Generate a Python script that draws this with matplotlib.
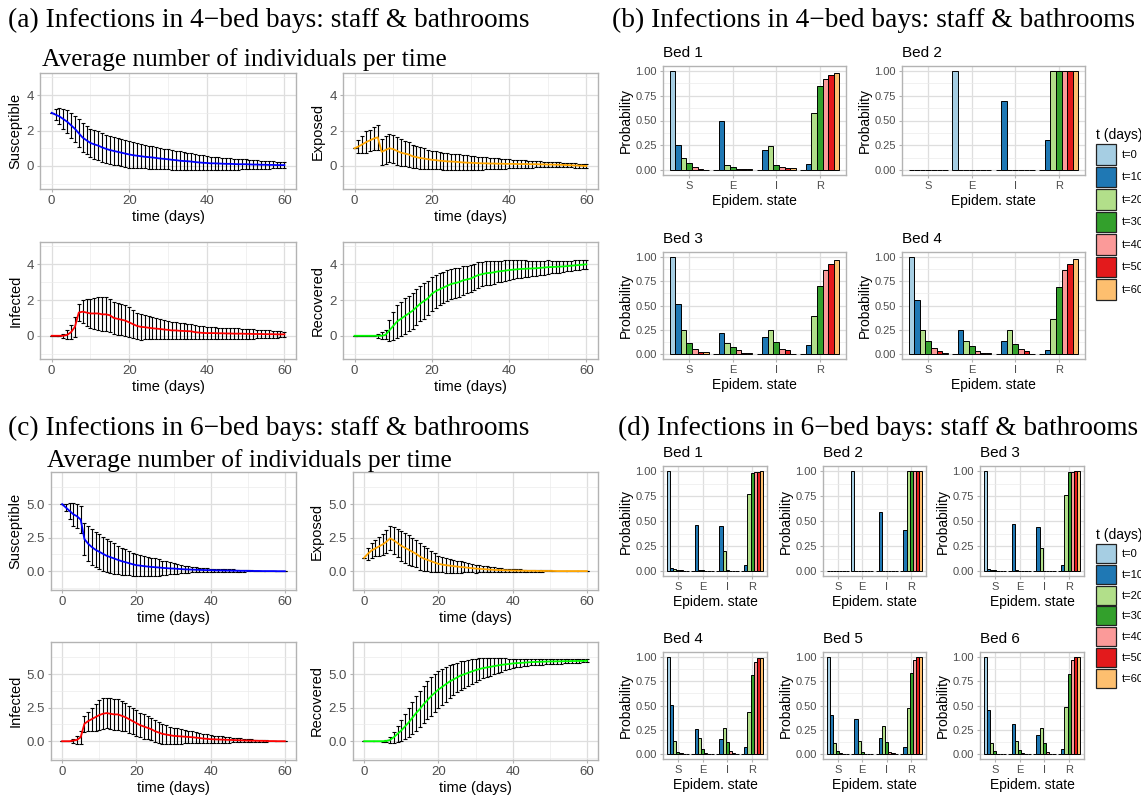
import numpy as np
import matplotlib.pyplot as plt
from matplotlib.patches import Patch

plt.rcParams['font.family'] = ['Liberation Sans', 'DejaVu Sans']

# ---- time series (mean and sd per day), 4-bed bays ----
days = np.arange(0, 61)

S4_mean = [3.00, 2.90, 2.80, 2.65, 2.50, 2.30, 2.10, 1.85, 1.60, 1.45,
           1.30, 1.22, 1.15, 1.05, 0.97, 0.90, 0.85, 0.80, 0.75, 0.70,
           0.65, 0.61, 0.58, 0.55, 0.52, 0.50, 0.48, 0.45, 0.42, 0.40,
           0.38, 0.35, 0.33, 0.30, 0.28, 0.27, 0.25, 0.22, 0.20, 0.18,
           0.17, 0.15, 0.15, 0.14, 0.13, 0.12, 0.12, 0.11, 0.10, 0.10,
           0.10, 0.09, 0.08, 0.08, 0.07, 0.07, 0.06, 0.06, 0.05, 0.05, 0.05]
S4_sd = [0.00, 0.30, 0.45, 0.55, 0.65, 0.70, 0.75, 0.80, 0.80, 0.80,
         0.80, 0.80, 0.80, 0.80, 0.80, 0.80, 0.78, 0.77, 0.76, 0.75,
         0.75, 0.72, 0.70, 0.68, 0.66, 0.65, 0.63, 0.62, 0.60, 0.58,
         0.57, 0.55, 0.53, 0.52, 0.50, 0.48, 0.47, 0.45, 0.43, 0.42,
         0.40, 0.38, 0.37, 0.35, 0.34, 0.33, 0.32, 0.31, 0.30, 0.29,
         0.28, 0.27, 0.25, 0.24, 0.23, 0.22, 0.21, 0.20, 0.19, 0.18, 0.17]
E4_mean = [1.00, 1.10, 1.22, 1.35, 1.45, 1.55, 1.62, 0.80, 0.90, 1.00,
           0.95, 0.85, 0.75, 0.70, 0.65, 0.55, 0.50, 0.45, 0.42, 0.38,
           0.35, 0.33, 0.30, 0.28, 0.26, 0.25, 0.24, 0.22, 0.20, 0.19,
           0.18, 0.17, 0.16, 0.15, 0.15, 0.14, 0.14, 0.13, 0.13, 0.12,
           0.12, 0.12, 0.11, 0.11, 0.11, 0.10, 0.10, 0.10, 0.09, 0.09,
           0.08, 0.08, 0.07, 0.07, 0.06, 0.05, 0.04, 0.03, 0.02, 0.01, 0.00]
E4_sd = [0.00, 0.35, 0.50, 0.60, 0.60, 0.65, 0.70, 0.75, 0.78, 0.80,
         0.80, 0.78, 0.75, 0.72, 0.68, 0.65, 0.62, 0.60, 0.57, 0.55,
         0.52, 0.50, 0.49, 0.48, 0.46, 0.45, 0.44, 0.43, 0.42, 0.41,
         0.40, 0.38, 0.37, 0.35, 0.34, 0.33, 0.31, 0.30, 0.28, 0.27,
         0.25, 0.24, 0.23, 0.22, 0.21, 0.20, 0.19, 0.18, 0.17, 0.16,
         0.15, 0.15, 0.14, 0.14, 0.13, 0.13, 0.12, 0.12, 0.11, 0.11, 0.10]
I4_mean = [0.00, 0.00, 0.00, 0.00, 0.05, 0.20, 0.50, 1.30, 1.35, 1.30,
           1.25, 1.25, 1.25, 1.20, 1.20, 1.15, 1.00, 0.95, 0.90, 0.85,
           0.75, 0.65, 0.55, 0.50, 0.48, 0.45, 0.42, 0.40, 0.38, 0.35,
           0.33, 0.30, 0.30, 0.28, 0.27, 0.26, 0.25, 0.20, 0.18, 0.16,
           0.15, 0.15, 0.15, 0.14, 0.14, 0.13, 0.13, 0.12, 0.12, 0.12,
           0.11, 0.11, 0.10, 0.10, 0.10, 0.09, 0.09, 0.09, 0.08, 0.08, 0.08]
I4_sd = [0.00, 0.00, 0.00, 0.10, 0.25, 0.40, 0.55, 0.50, 0.65, 0.75,
         0.80, 0.85, 0.90, 0.95, 0.95, 0.92, 0.90, 0.90, 0.88, 0.86,
         0.84, 0.80, 0.75, 0.72, 0.68, 0.65, 0.62, 0.58, 0.55, 0.52,
         0.50, 0.48, 0.46, 0.45, 0.44, 0.42, 0.41, 0.40, 0.38, 0.36,
         0.35, 0.34, 0.33, 0.32, 0.31, 0.30, 0.30, 0.29, 0.29, 0.28,
         0.28, 0.27, 0.26, 0.25, 0.24, 0.22, 0.21, 0.20, 0.18, 0.17, 0.15]
R4_mean = [0.00, 0.00, 0.00, 0.00, 0.00, 0.00, 0.00, 0.00, 0.05, 0.30,
           0.55, 0.80, 0.95, 1.10, 1.25, 1.40, 1.60, 1.80, 1.95, 2.10,
           2.35, 2.50, 2.60, 2.70, 2.80, 2.90, 2.95, 3.00, 3.10, 3.15,
           3.20, 3.30, 3.40, 3.45, 3.50, 3.52, 3.55, 3.60, 3.62, 3.65,
           3.68, 3.70, 3.72, 3.74, 3.75, 3.76, 3.77, 3.78, 3.80, 3.82,
           3.84, 3.85, 3.86, 3.87, 3.88, 3.90, 3.92, 3.94, 3.96, 3.98, 4.00]
R4_sd = [0.00, 0.00, 0.00, 0.00, 0.00, 0.00, 0.10, 0.20, 0.25, 0.60,
         0.80, 0.90, 0.95, 1.00, 1.00, 1.00, 1.00, 1.00, 1.00, 0.95,
         0.95, 0.92, 0.90, 0.88, 0.86, 0.85, 0.83, 0.81, 0.79, 0.77,
         0.75, 0.73, 0.71, 0.69, 0.67, 0.65, 0.63, 0.61, 0.59, 0.57,
         0.55, 0.53, 0.51, 0.49, 0.47, 0.45, 0.44, 0.42, 0.41, 0.39,
         0.38, 0.36, 0.35, 0.33, 0.32, 0.30, 0.29, 0.28, 0.27, 0.26, 0.25]

# ---- time series, 6-bed bays ----
S6_mean = [5.00, 4.75, 4.50, 4.25, 4.10, 3.85, 2.40, 2.05, 1.80, 1.60,
           1.45, 1.30, 1.15, 1.05, 0.95, 0.85, 0.75, 0.68, 0.60, 0.52,
           0.45, 0.42, 0.38, 0.35, 0.32, 0.30, 0.28, 0.25, 0.23, 0.21,
           0.20, 0.18, 0.16, 0.14, 0.13, 0.12, 0.11, 0.10, 0.09, 0.08,
           0.08, 0.07, 0.06, 0.06, 0.05, 0.05, 0.04, 0.04, 0.03, 0.03,
           0.03, 0.02, 0.02, 0.02, 0.01, 0.01, 0.01, 0.01, 0.00, 0.00, 0.00]
S6_sd = [0.00, 0.25, 0.60, 0.85, 0.90, 1.00, 1.20, 1.30, 1.32, 1.32,
         1.30, 1.28, 1.24, 1.18, 1.12, 1.05, 1.00, 0.95, 0.90, 0.85,
         0.80, 0.77, 0.74, 0.71, 0.68, 0.65, 0.60, 0.55, 0.50, 0.45,
         0.40, 0.36, 0.32, 0.28, 0.24, 0.20, 0.18, 0.16, 0.14, 0.13,
         0.12, 0.11, 0.11, 0.10, 0.10, 0.10, 0.09, 0.08, 0.07, 0.06,
         0.05, 0.04, 0.03, 0.03, 0.02, 0.02, 0.02, 0.01, 0.01, 0.01, 0.01]
E6_mean = [1.00, 1.30, 1.55, 1.70, 1.85, 2.00, 2.20, 2.45, 2.30, 2.10,
           1.90, 1.75, 1.60, 1.45, 1.30, 1.10, 0.95, 0.85, 0.75, 0.65,
           0.55, 0.50, 0.45, 0.42, 0.38, 0.35, 0.32, 0.29, 0.26, 0.23,
           0.20, 0.18, 0.16, 0.14, 0.12, 0.10, 0.09, 0.08, 0.07, 0.06,
           0.05, 0.05, 0.04, 0.04, 0.03, 0.03, 0.03, 0.02, 0.02, 0.02,
           0.02, 0.02, 0.01, 0.01, 0.01, 0.01, 0.01, 0.01, 0.01, 0.01, 0.01]
E6_sd = [0.00, 0.45, 0.55, 0.60, 0.70, 0.80, 0.85, 0.90, 1.00, 1.05,
         1.10, 1.10, 1.10, 1.05, 1.02, 1.00, 0.92, 0.85, 0.78, 0.70,
         0.62, 0.58, 0.55, 0.52, 0.48, 0.45, 0.42, 0.38, 0.35, 0.32,
         0.30, 0.27, 0.24, 0.22, 0.20, 0.18, 0.16, 0.14, 0.13, 0.12,
         0.12, 0.10, 0.09, 0.08, 0.08, 0.07, 0.06, 0.05, 0.05, 0.04,
         0.04, 0.03, 0.03, 0.03, 0.02, 0.02, 0.02, 0.02, 0.02, 0.02, 0.02]
I6_mean = [0.00, 0.00, 0.00, 0.05, 0.10, 0.30, 1.30, 1.50, 1.65, 1.80,
           1.95, 2.05, 2.10, 2.05, 2.00, 2.00, 1.90, 1.80, 1.65, 1.50,
           1.35, 1.20, 1.10, 1.00, 0.90, 0.75, 0.65, 0.55, 0.50, 0.45,
           0.40, 0.38, 0.36, 0.34, 0.32, 0.30, 0.27, 0.24, 0.20, 0.18,
           0.15, 0.14, 0.13, 0.12, 0.11, 0.10, 0.09, 0.08, 0.07, 0.06,
           0.05, 0.04, 0.04, 0.03, 0.03, 0.02, 0.01, 0.01, 0.00, 0.00, 0.00]
I6_sd = [0.00, 0.00, 0.00, 0.15, 0.30, 0.50, 0.60, 0.70, 0.85, 1.00,
         1.10, 1.15, 1.15, 1.15, 1.15, 1.15, 1.10, 1.05, 1.00, 0.98,
         0.95, 0.92, 0.90, 0.87, 0.84, 0.80, 0.76, 0.72, 0.68, 0.64,
         0.60, 0.57, 0.54, 0.50, 0.47, 0.45, 0.42, 0.39, 0.36, 0.33,
         0.30, 0.28, 0.26, 0.24, 0.22, 0.20, 0.18, 0.16, 0.14, 0.12,
         0.10, 0.09, 0.08, 0.07, 0.06, 0.05, 0.03, 0.02, 0.01, 0.00, 0.00]
R6_mean = [0.00, 0.00, 0.00, 0.00, 0.00, 0.00, 0.02, 0.10, 0.30, 0.55,
           0.80, 1.10, 1.40, 1.75, 2.10, 2.40, 2.75, 3.05, 3.35, 3.60,
           3.85, 4.05, 4.25, 4.45, 4.60, 4.75, 4.90, 5.00, 5.10, 5.20,
           5.30, 5.38, 5.45, 5.50, 5.55, 5.60, 5.65, 5.70, 5.73, 5.76,
           5.80, 5.82, 5.84, 5.86, 5.88, 5.90, 5.91, 5.92, 5.93, 5.94,
           5.95, 5.95, 5.96, 5.96, 5.97, 5.97, 5.98, 5.98, 5.99, 5.99, 6.00]
R6_sd = [0.00, 0.00, 0.00, 0.00, 0.00, 0.05, 0.10, 0.25, 0.40, 0.60,
         0.80, 0.95, 1.10, 1.20, 1.30, 1.35, 1.40, 1.42, 1.45, 1.42,
         1.40, 1.35, 1.30, 1.22, 1.15, 1.10, 1.05, 1.00, 0.95, 0.90,
         0.85, 0.80, 0.75, 0.70, 0.65, 0.60, 0.55, 0.50, 0.45, 0.40,
         0.35, 0.32, 0.30, 0.28, 0.25, 0.25, 0.23, 0.22, 0.21, 0.20,
         0.20, 0.19, 0.18, 0.17, 0.16, 0.15, 0.14, 0.13, 0.12, 0.11, 0.10]

# ---- bar data: probability of each state (rows S,E,I,R) at t=0..60 ----
states = ['S', 'E', 'I', 'R']
times = [0, 10, 20, 30, 40, 50, 60]
pal = ['#A6CEE3', '#1F78B4', '#B2DF8A', '#33A02C', '#FB9A99', '#E31A1C', '#FDBF6F']

bay4_bed1 = [[1.00, 0.25, 0.12, 0.07, 0.03, 0.01, 0.00],
             [0.00, 0.49, 0.05, 0.03, 0.01, 0.01, 0.01],
             [0.00, 0.20, 0.24, 0.05, 0.03, 0.02, 0.02],
             [0.00, 0.06, 0.58, 0.85, 0.92, 0.96, 0.98]]
bay4_bed2 = [[0.00, 0.00, 0.00, 0.00, 0.00, 0.00, 0.00],
             [1.00, 0.00, 0.00, 0.00, 0.00, 0.00, 0.00],
             [0.00, 0.70, 0.00, 0.00, 0.00, 0.00, 0.00],
             [0.00, 0.30, 1.00, 1.00, 1.00, 1.00, 1.00]]
bay4_bed3 = [[1.00, 0.52, 0.25, 0.11, 0.05, 0.02, 0.02],
             [0.00, 0.22, 0.11, 0.07, 0.04, 0.01, 0.01],
             [0.00, 0.18, 0.25, 0.12, 0.05, 0.04, 0.00],
             [0.00, 0.09, 0.39, 0.70, 0.86, 0.93, 0.97]]
bay4_bed4 = [[1.00, 0.56, 0.25, 0.13, 0.06, 0.03, 0.01],
             [0.00, 0.25, 0.13, 0.08, 0.03, 0.01, 0.01],
             [0.00, 0.14, 0.25, 0.10, 0.05, 0.03, 0.00],
             [0.00, 0.04, 0.36, 0.69, 0.86, 0.93, 0.98]]

bay6_bed1 = [[1.00, 0.03, 0.02, 0.01, 0.01, 0.00, 0.00],
             [0.00, 0.46, 0.01, 0.01, 0.00, 0.00, 0.00],
             [0.00, 0.45, 0.20, 0.01, 0.00, 0.00, 0.00],
             [0.00, 0.06, 0.77, 0.98, 0.99, 0.99, 1.00]]
bay6_bed2 = [[0.00, 0.00, 0.00, 0.00, 0.00, 0.00, 0.00],
             [1.00, 0.00, 0.00, 0.00, 0.00, 0.00, 0.00],
             [0.00, 0.59, 0.00, 0.00, 0.00, 0.00, 0.00],
             [0.00, 0.41, 1.00, 1.00, 1.00, 1.00, 1.00]]
bay6_bed3 = [[1.00, 0.02, 0.01, 0.01, 0.00, 0.00, 0.00],
             [0.00, 0.47, 0.01, 0.00, 0.00, 0.00, 0.00],
             [0.00, 0.44, 0.23, 0.00, 0.00, 0.00, 0.00],
             [0.00, 0.06, 0.76, 0.99, 0.99, 1.00, 1.00]]
bay6_bed4 = [[1.00, 0.51, 0.13, 0.02, 0.01, 0.00, 0.00],
             [0.00, 0.26, 0.17, 0.05, 0.01, 0.00, 0.00],
             [0.00, 0.16, 0.27, 0.12, 0.03, 0.01, 0.00],
             [0.00, 0.07, 0.43, 0.81, 0.95, 0.99, 0.99]]
bay6_bed5 = [[1.00, 0.40, 0.11, 0.03, 0.01, 0.00, 0.00],
             [0.00, 0.36, 0.13, 0.02, 0.00, 0.00, 0.00],
             [0.00, 0.17, 0.29, 0.12, 0.02, 0.01, 0.00],
             [0.00, 0.07, 0.47, 0.83, 0.97, 1.00, 1.00]]
bay6_bed6 = [[1.00, 0.45, 0.11, 0.03, 0.00, 0.00, 0.00],
             [0.00, 0.31, 0.14, 0.04, 0.01, 0.00, 0.00],
             [0.00, 0.20, 0.27, 0.11, 0.02, 0.00, 0.00],
             [0.00, 0.05, 0.48, 0.82, 0.97, 1.00, 1.00]]

W, H = 1141, 797
fig = plt.figure(figsize=(W / 100, H / 100), dpi=100)


def px_axes(x0, y0, x1, y1):
    # axes from pixel box (top-left origin)
    return fig.add_axes([x0 / W, 1 - y1 / H, (x1 - x0) / W, (y1 - y0) / H])


def light_theme(ax, tick_size):
    for s in ax.spines.values():
        s.set_color('#B3B3B3')
        s.set_linewidth(1.0)
    ax.set_axisbelow(True)
    ax.grid(which='major', color='#DEDEDE', lw=0.9)
    ax.tick_params(which='major', length=2.5, color='#B3B3B3', labelsize=tick_size,
                   labelcolor='#4D4D4D', pad=2)
    ax.tick_params(which='minor', length=0)


def line_panel(box, mean, sd, color, ylabel, six_bed):
    ax = px_axes(*box)
    light_theme(ax, 9.5)
    ax.grid(which='minor', color='#EBEBEB', lw=0.5)
    ax.errorbar(days, mean, yerr=sd, fmt='none', ecolor='black', elinewidth=0.8,
                capsize=1.6, capthick=0.8, zorder=2)
    ax.plot(days, mean, color=color, lw=1.3, zorder=3)
    ax.set_xlim(-3, 63)
    ax.set_xticks([0, 20, 40, 60])
    ax.set_xticks([10, 30, 50], minor=True)
    if six_bed:
        ax.set_ylim(-1.4, 7.4)
        ax.set_yticks([0, 2.5, 5.0])
        ax.set_yticklabels(['0.0', '2.5', '5.0'])
        ax.set_yticks([-1.25, 1.25, 3.75, 6.25], minor=True)
    else:
        ax.set_ylim(-1.3, 5.25)
        ax.set_yticks([0, 2, 4])
        ax.set_yticks([-1, 1, 3, 5], minor=True)
    ax.set_xlabel('time (days)', fontsize=10.5, labelpad=2)
    ax.set_ylabel(ylabel, fontsize=10.5, labelpad=3)
    return ax


def bar_panel(box, probs, title):
    ax = px_axes(*box)
    light_theme(ax, 8)
    ax.grid(which='minor', axis='y', color='#EBEBEB', lw=0.5)
    cat_x = np.arange(1, len(states) + 1)
    w = 0.9 / len(times)
    vals = np.array(probs)
    for i, t in enumerate(times):
        ax.bar(cat_x + (i - 3) * w, vals[:, i], width=w, color=pal[i],
               edgecolor='black', linewidth=0.7, zorder=2)
    ax.set_xlim(0.4, 4.6)
    ax.set_ylim(-0.05, 1.05)
    ax.set_xticks(cat_x)
    ax.set_xticklabels(states)
    ax.set_yticks([0, 0.25, 0.5, 0.75, 1.0])
    ax.set_yticklabels(['0.00', '0.25', '0.50', '0.75', '1.00'])
    ax.set_yticks([0.125, 0.375, 0.625, 0.875], minor=True)
    ax.set_xlabel('Epidem. state', fontsize=10, labelpad=2)
    ax.set_ylabel('Probability', fontsize=10, labelpad=2)
    ax.set_title(title, loc='left', fontsize=11, pad=6.5)
    return ax


# panel titles
serif = ['Liberation Serif', 'DejaVu Serif']
head = '%s Infections in %d\u2212bed bays: staff & bathrooms'
fig.text(8 / W, 1 - 20 / H, head % ('(a)', 4), family=serif, fontsize=19.7, va='center')
fig.text(612 / W, 1 - 20 / H, head % ('(b)', 4), family=serif, fontsize=19.7, va='center')
fig.text(8 / W, 1 - 428 / H, head % ('(c)', 6), family=serif, fontsize=19.7, va='center')
fig.text(618 / W, 1 - 428 / H, head % ('(d)', 6), family=serif, fontsize=19.6, va='center')
fig.text(42 / W, 1 - 60 / H, 'Average number of individuals per time',
         family=serif, fontsize=18.3, va='center')
fig.text(47 / W, 1 - 461 / H, 'Average number of individuals per time',
         family=serif, fontsize=18.3, va='center')

# (a) 4-bed time series
line_panel((40, 73, 296, 189), S4_mean, S4_sd, 'blue', 'Susceptible', False)
line_panel((343, 73, 598, 189), E4_mean, E4_sd, 'orange', 'Exposed', False)
line_panel((40, 242, 296, 359), I4_mean, I4_sd, 'red', 'Infected', False)
line_panel((343, 242, 598, 359), R4_mean, R4_sd, '#00FF00', 'Recovered', False)

# (c) 6-bed time series
line_panel((51, 472, 296, 590), S6_mean, S6_sd, 'blue', 'Susceptible', True)
line_panel((353, 472, 598, 590), E6_mean, E6_sd, 'orange', 'Exposed', True)
line_panel((51, 642, 296, 760), I6_mean, I6_sd, 'red', 'Infected', True)
line_panel((353, 642, 598, 760), R6_mean, R6_sd, '#00FF00', 'Recovered', True)

# (b) 4-bed bars
bar_panel((663, 66, 846, 175), bay4_bed1, 'Bed 1')
bar_panel((902, 66, 1085, 175), bay4_bed2, 'Bed 2')
bar_panel((663, 252, 846, 359), bay4_bed3, 'Bed 3')
bar_panel((902, 252, 1085, 359), bay4_bed4, 'Bed 4')

# (d) 6-bed bars
bar_panel((663, 466, 767, 576), bay6_bed1, 'Bed 1')
bar_panel((823, 466, 926, 576), bay6_bed2, 'Bed 2')
bar_panel((980, 466, 1084, 576), bay6_bed3, 'Bed 3')
bar_panel((663, 652, 767, 759), bay6_bed4, 'Bed 4')
bar_panel((823, 652, 926, 759), bay6_bed5, 'Bed 5')
bar_panel((980, 652, 1084, 759), bay6_bed6, 'Bed 6')

handles = [Patch(facecolor=c, edgecolor='#222222', linewidth=0.9) for c in pal]
labels = ['t=%d' % t for t in times]
fig.legend(handles, labels, loc='upper left', bbox_to_anchor=(1096 / W, 1 - 128 / H),
           frameon=False, title='t (days)', fontsize=8, title_fontsize=10,
           handlelength=1.8, handleheight=2.4, labelspacing=0.22, handletextpad=0.55,
           borderpad=0, borderaxespad=0, alignment='left')
fig.legend(handles, labels, loc='upper left', bbox_to_anchor=(1096 / W, 1 - 528 / H),
           frameon=False, title='t (days)', fontsize=8, title_fontsize=10,
           handlelength=1.8, handleheight=2.25, labelspacing=0.17, handletextpad=0.55,
           borderpad=0, borderaxespad=0, alignment='left')

fig.savefig('out.png', dpi=100)
